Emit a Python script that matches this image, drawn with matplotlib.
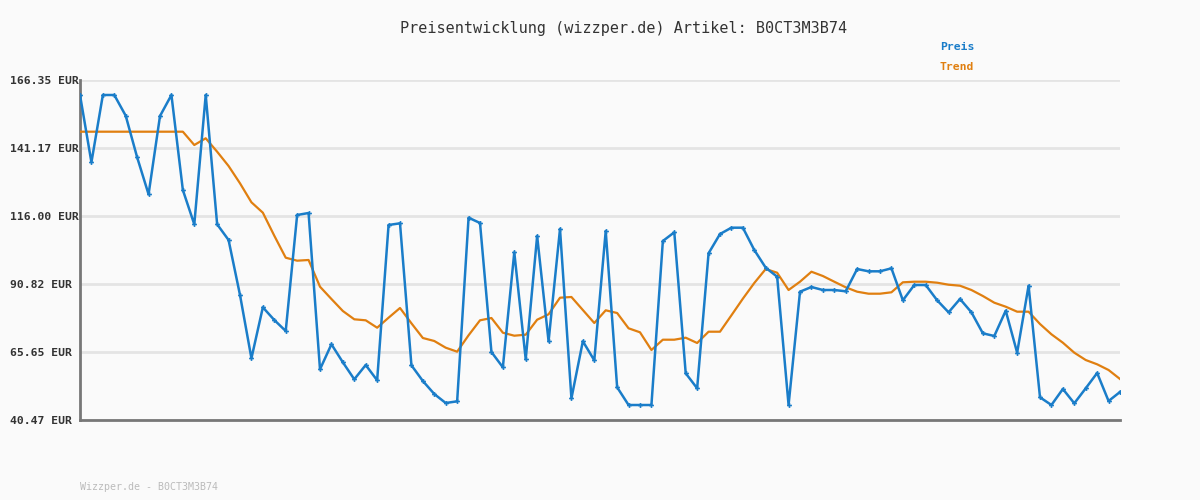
import numpy as np
import matplotlib
matplotlib.use("Agg")
import matplotlib.pyplot as plt
from matplotlib.ticker import FormatStrFormatter

# Preis (EUR)
preis = [
    160.80, 135.88, 160.80, 160.80, 153.13, 137.73, 124.03, 153.02, 160.80, 125.62,
    112.92, 160.80, 112.92, 107.11, 86.75, 63.31, 82.19, 77.49, 73.42, 116.37,
    117.11, 59.24, 68.50, 61.83, 55.54, 60.83, 55.17, 112.67, 113.29, 60.72,
    54.91, 50.09, 46.76, 47.39, 115.37, 113.41, 65.64, 59.98, 102.56, 62.94,
    108.59, 69.61, 111.18, 48.50, 69.61, 62.57, 110.44, 52.58, 46.02, 46.02,
    46.02, 106.74, 109.96, 57.76, 52.20, 102.19, 109.33, 111.67, 111.67, 103.41,
    96.86, 93.52, 46.02, 87.97, 89.71, 88.60, 88.60, 88.12, 96.37, 95.52,
    95.52, 96.63, 84.79, 90.45, 90.45, 84.79, 80.34, 85.27, 80.34, 72.57,
    71.57, 80.94, 65.39, 90.19, 48.87, 46.02, 51.95, 46.65, 52.20, 57.87,
    47.50, 50.84,
]

# Trend (EUR)
trend = [
    147.21, 147.21, 147.21, 147.21, 147.21, 147.21, 147.21, 147.21, 147.21, 147.21,
    142.28, 144.77, 139.80, 134.51, 128.10, 121.07, 117.22, 108.70, 100.56, 99.45,
    99.71, 89.82, 85.27, 80.82, 77.75, 77.38, 74.64, 78.34, 81.94, 76.27,
    70.83, 69.72, 67.24, 65.76, 71.83, 77.38, 78.23, 72.79, 71.68, 72.05,
    77.60, 79.60, 85.75, 86.01, 81.19, 76.38, 81.08, 80.08, 74.42, 72.94,
    66.39, 70.20, 70.20, 70.94, 68.98, 73.16, 73.16, 79.23, 85.38, 91.19,
    96.37, 95.00, 88.60, 91.67, 95.37, 93.78, 91.67, 89.60, 87.97, 87.23,
    87.23, 87.75, 91.45, 91.67, 91.67, 91.30, 90.56, 90.19, 88.60, 86.38,
    83.90, 82.42, 80.57, 80.57, 76.01, 72.20, 69.09, 65.39, 62.68, 61.09,
    58.98, 55.65,
]

y_min, y_max = 40.47, 166.35
artikel = "B0CT3M3B74"

blue = "#1a7dc9"
orange = "#e07f10"
bg = "#fafafa"

fig = plt.figure(figsize=(12, 5), dpi=100, facecolor=bg)
ax = fig.add_axes([80 / 1200, 80 / 500, 1040 / 1200, 340 / 500], facecolor=bg)

x = np.arange(len(preis))
ax.plot(x, trend, color=orange, lw=1.6, zorder=3)
ax.plot(x, preis, color=blue, lw=1.8, marker="P", markersize=3.5,
        markeredgewidth=0, zorder=4)

ax.set_xlim(0, len(preis) - 1)
ax.set_ylim(y_min, y_max)
ax.set_yticks(np.linspace(y_min, y_max, 6))
ax.yaxis.set_major_formatter(FormatStrFormatter("%.2f EUR"))
ax.set_xticks([])
ax.grid(axis="y", color="#e4e4e4", lw=2, zorder=0)
ax.tick_params(axis="y", length=0, pad=50.4, labelsize=8.2, labelcolor="#333333")
for lbl in ax.get_yticklabels():
    lbl.set_horizontalalignment("left")
    lbl.set_fontfamily("DejaVu Sans Mono")
    lbl.set_fontweight("bold")

for side in ["top", "right"]:
    ax.spines[side].set_visible(False)
for side in ["left", "bottom"]:
    ax.spines[side].set_color("#777777")
    ax.spines[side].set_linewidth(2.0)
ax.set_clip_on(False)

fig.text(624 / 1200, 1 - 28 / 500, "Preisentwicklung (wizzper.de) Artikel: " + artikel,
         ha="center", va="center", fontsize=10.9, family="DejaVu Sans Mono",
         color="#333333")
fig.text(957 / 1200, 1 - 47 / 500, "Preis", ha="center", va="center",
         fontsize=8.2, family="DejaVu Sans Mono", fontweight="bold", color=blue)
fig.text(957 / 1200, 1 - 67 / 500, "Trend", ha="center", va="center",
         fontsize=8.2, family="DejaVu Sans Mono", fontweight="bold", color=orange)
fig.text(80 / 1200, 1 - 487 / 500, "Wizzper.de - " + artikel, ha="left", va="center",
         fontsize=7.2, family="DejaVu Sans Mono", color="#bbbbbb")

fig.savefig("out.png", dpi=100, facecolor=bg)
